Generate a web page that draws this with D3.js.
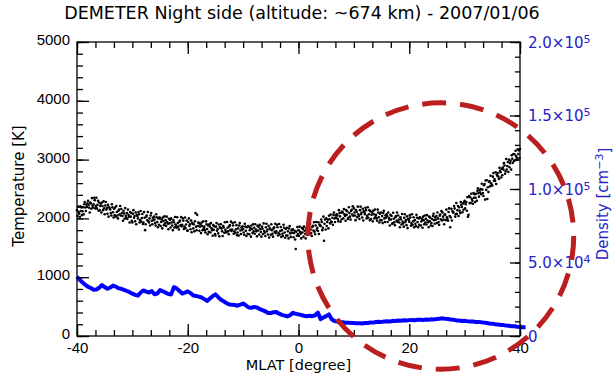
<!DOCTYPE html>
<html lang="en">
<head>
<meta charset="utf-8">
<title>DEMETER Night side</title>
<script src="https://d3js.org/d3.v7.min.js"></script>
<style>
  body { margin: 0; background: #fff; }
  svg { font-family: "DejaVu Sans", sans-serif; }
  .tick text { font-size: 15px; }
</style>
</head>
<body>
<svg id="chart" width="614" height="373"></svg>
<script>
// temperature samples, one every 0.1 degree of MLAT starting at -40
let tempStart = -40, tempStep = 0.1;
let temperature = [
  2140,2040,2200,2110,2080,2025,2205,2125,2185,2055,
  2120,2190,2070,2240,2280,2185,2125,2235,2195,2255,
  2300,2230,2180,2100,2270,2255,2165,2345,2215,2185,
  2240,2350,2310,2170,2210,2350,2170,2230,2300,2130,
  2270,2140,2210,2250,2100,2270,2210,2140,2290,2170,
  2070,2220,2280,2150,2180,2080,2230,2030,2190,2170,
  2150,2090,2050,2240,2190,2105,2015,2165,2055,2185,
  2030,2210,2110,2050,2000,2130,2150,2070,2210,2050,
  2160,2090,2040,1960,2130,2085,1995,2175,2045,2015,
  2090,1990,2150,2060,2030,1930,2110,2030,2090,1960,
  1930,2080,2140,2010,2040,1950,2100,1900,2060,2040,
  2000,2110,2070,1930,1970,2125,1945,2005,2075,1905,
  1930,2110,2010,1800,1900,2030,2050,1970,2110,1950,
  1930,2000,1880,2050,2090,1960,1900,2010,1970,2030,
  1980,1920,1880,2070,2020,1940,1850,2000,1890,2020,
  2000,1870,1940,1980,1830,2015,1955,1885,2035,1915,
  1970,1870,2030,1940,1910,1815,1995,1915,1975,1845,
  2000,1930,1880,1800,1970,1935,1845,2025,1895,1865,
  1840,2020,1920,1860,1810,1945,1965,1885,2025,1865,
  1890,2000,1960,1820,1860,2015,1835,1895,1965,1795,
  1790,1940,2000,1870,1900,1815,1965,1765,1925,1905,
  1830,1900,1780,1950,2090,1860,1800,2060,1870,1930,
  1920,1790,1860,1900,1750,1930,1870,1800,1950,1830,
  1860,1800,1760,1950,1900,1820,1730,1880,1770,1900,
  1860,1760,1920,1830,1800,1705,1885,1805,1865,1735,
  1710,1860,1920,1790,1820,1745,1895,1695,1855,1835,
  1900,1830,1780,1700,1870,1845,1755,1935,1805,1775,
  1760,1940,1840,1780,1730,1865,1885,1805,1945,1785,
  1810,1920,1880,1740,1780,1935,1755,1815,1885,1715,
  1760,1830,1710,1880,1920,1795,1735,1845,1805,1865,
  1820,1760,1720,1910,1860,1790,1700,1850,1740,1870,
  1860,1730,1800,1840,1690,1880,1820,1750,1900,1780,
  1840,1740,1900,1810,1780,1695,1875,1795,1855,1725,
  1890,1820,1770,1690,1860,1825,1735,1915,1785,1755,
  1700,1850,1910,1780,1810,1725,1875,1675,1835,1815,
  1720,1900,1800,1740,1690,1830,1850,1770,1910,1750,
  1780,1890,1850,1710,1750,1905,1725,1785,1855,1685,
  1800,1740,1700,1890,1840,1760,1670,1820,1710,1840,
  1710,1780,1660,1830,1870,1745,1685,1795,1755,1815,
  1810,1680,1750,1790,1640,1480,1775,1705,1855,1735,
  1800,1700,1860,1770,1740,1660,1840,1760,1820,1690,
  1860,1790,1740,1660,1830,1810,1720,1900,1770,1740,
  1730,1910,1810,1750,1700,1855,1875,1795,1935,1775,
  1730,1880,1940,1810,1840,1785,1935,1735,1895,1875,
  1870,1980,1940,1800,1840,2030,1620,1910,1980,1810,
  2000,1870,1940,1980,1830,2045,1985,1915,2065,1945,
  1940,2010,1890,2060,2100,2000,1940,2050,2010,2070,
  2050,1990,1950,2140,2090,2035,1945,2095,1985,2115,
  2100,2000,2160,2070,2040,1960,2140,2060,2120,1990,
  2010,2190,2090,2030,1980,2125,2145,2065,2205,2045,
  2170,2100,2050,1970,2140,2110,2020,2200,2070,2040,
  1990,2140,2200,2070,2100,2015,2165,1965,2125,2105,
  2070,2180,2140,2000,2040,2190,2010,2070,2140,1970,
  2120,1990,2060,2100,1950,2130,2070,2000,2150,2030,
  2060,2000,1960,2150,2100,2020,1930,2080,1970,2100,
  1970,2040,1920,2090,2130,2000,1940,2050,2010,2070,
  2040,1940,2100,2010,1980,1880,2060,1980,2040,1910,
  1915,2095,1995,1935,1885,2020,2040,1960,2100,1940,
  2050,1980,1930,1850,2020,1985,1895,2075,1945,1915,
  1860,2010,2070,1940,1970,1885,2035,1835,1995,1975,
  1945,2055,2015,1875,1915,2070,1890,1950,2020,1850,
  1970,1910,1870,2060,2010,1940,1850,2000,1890,2020,
  2010,1880,1950,1990,1840,2030,1970,1900,2050,1930,
  1995,1895,2055,1965,1935,1850,2030,1950,2010,1880,
  1920,1990,1870,2040,2080,1970,1910,2020,1980,2040,
  1920,2100,2000,1940,1890,2045,2065,1985,2125,1965,
  2100,2030,1980,1900,2070,2060,1970,2150,2020,1990,
  1960,2110,2170,2040,1850,2015,2165,1965,2125,2105,
  2100,2210,2170,2030,2070,2260,2080,2140,2210,2040,
  2190,2130,2090,2280,2230,2195,2105,2255,2145,2275,
  2300,2170,2240,2280,2130,2360,2030,2060,2380,2260,
  2360,2260,2420,2330,2300,2250,2430,2350,2410,2280,
  2350,2420,2300,2470,2510,2430,2370,2480,2440,2500,
  2410,2590,2490,2430,2380,2565,2585,2320,2645,2485,
  2650,2330,2530,2450,2620,2635,2545,2725,2595,2565,
  2560,2710,2770,2640,2670,2635,2785,2585,2745,2725,
  2770,2710,2670,2860,2810,2785,2695,2845,2735,2865,
  2830,2940,2900,2760,2800,3010,2830,2890,2960,2790,
  3000,2870,2940,2980,2830,3075,3015,2945,3095,2975,
  3090,2990,3150,3060,3030,2995,3175,3095,3155,3025,
  3180
];

// electron density [cm^-3], one every 0.5 degree starting at -40
let densStart = -40, densStep = 0.5;
let density = [
  40300,38200,36400,34800,33500,32600,31500,31600,32800,34700,
  33300,32100,33000,34300,33600,32500,32100,31400,30600,29800,
  28800,28000,27500,29600,31000,30200,29600,30600,28400,28900,
  31200,30400,29500,28500,28300,33200,32400,30600,28900,29500,
  30400,29200,27500,27200,26800,26200,25100,23900,25500,27100,
  28300,26400,24700,23600,22300,21500,21300,21100,20600,21300,
  22100,20800,19400,19200,19800,19400,18300,17600,16800,15700,
  15600,16200,16300,15200,14400,13900,13300,14200,15800,15100,
  14700,14300,13800,13500,13800,13500,14100,15900,11500,12600,
  13500,14700,11400,10200,9800,9400,9300,9000,9100,8800,
  8900,8600,8700,8500,8800,8900,9200,9100,9500,9700,
  9600,9900,10100,9900,10300,10200,10500,10400,10700,10500,
  10800,10900,10700,11000,11100,10900,11200,11100,11400,11300,
  11600,11800,12000,11700,11600,11200,11000,10600,10500,10200,
  10300,10000,9900,9800,9600,9600,9300,9100,8800,8500,
  8400,8000,7900,7500,7400,7100,7000,6700,6600,6300,
  6200,5900,5900
];

let latTicks = [-40, -20, 0, 20, 40];
let latTickLabels = ["-40", "-20", "0", "20", "40"];
let tempTicks = [0, 1000, 2000, 3000, 4000, 5000];
let densTicks = [0, 50000, 100000, 150000, 200000];
let densTickLabels = [["0", ""], ["5.0\u00d710", "4"], ["1.0\u00d710", "5"], ["1.5\u00d710", "5"], ["2.0\u00d710", "5"]];

// annotation ellipse in data units: centre (MLAT, K), radii (deg, K)
let ring = {lat: 25.7, temp: 1700, rLat: 24.0, rTemp: 2265};

let svg = d3.select("#chart");
let margin = {left: 77, right: 94, top: 42, bottom: 37};
let width = 614 - margin.left - margin.right;
let height = 373 - margin.top - margin.bottom;

let x = d3.scaleLinear().domain([-40, 40]).range([margin.left, margin.left + width]);
let yT = d3.scaleLinear().domain([0, 5000]).range([margin.top + height, margin.top]);
let yD = d3.scaleLinear().domain([0, 200000]).range([margin.top + height, margin.top]);

let blue = "#0000ff";
let blueText = "#2424c8";

// title
svg.append("text")
   .attr("x", 302).attr("y", 19)
   .attr("text-anchor", "middle")
   .style("font-size", "17.5px")
   .text("DEMETER Night side (altitude: ~674 km) - 2007/01/06");

// data
let tempData = temperature.map((t, i) => ({lat: tempStart + i * tempStep, t: t}));
let densData = density.map((d, i) => ({lat: densStart + i * densStep, d: d}));

svg.append("g").selectAll("circle")
   .data(tempData)
   .join("circle")
   .attr("cx", d => x(d.lat))
   .attr("cy", d => yT(d.t))
   .attr("r", 1.3)
   .attr("fill", "#000");

svg.append("path")
   .datum(densData)
   .attr("fill", "none")
   .attr("stroke", blue)
   .attr("stroke-width", 4)
   .attr("stroke-linejoin", "round")
   .attr("d", d3.line().x(d => x(d.lat)).y(d => yD(d.d)));

// frame
svg.append("rect")
   .attr("x", margin.left).attr("y", margin.top)
   .attr("width", width).attr("height", height)
   .attr("fill", "none").attr("stroke", "#000").attr("stroke-width", 1.3);

let minorLat = d3.range(-40, 40.001, 20 / 6);
let minorTemp = d3.range(0, 5001, 200);
let minorDens = d3.range(0, 200001, 10000);

function styleAxis(g) {
  g.select(".domain").remove();
  g.selectAll("line").attr("stroke", "#000").attr("stroke-width", 1.3);
}

// bottom
svg.append("g").attr("transform", `translate(0,${margin.top + height})`)
   .call(d3.axisBottom(x).tickValues(minorLat).tickSize(-6).tickFormat("")).call(styleAxis);
svg.append("g").attr("transform", `translate(0,${margin.top + height})`)
   .call(d3.axisBottom(x).tickValues(latTicks).tickSize(-12).tickPadding(6)
         .tickFormat((d, i) => latTickLabels[i])).call(styleAxis);
// top
svg.append("g").attr("transform", `translate(0,${margin.top})`)
   .call(d3.axisTop(x).tickValues(minorLat).tickSize(-6).tickFormat("")).call(styleAxis);
svg.append("g").attr("transform", `translate(0,${margin.top})`)
   .call(d3.axisTop(x).tickValues(latTicks).tickSize(-12).tickFormat("")).call(styleAxis);
// left
svg.append("g").attr("transform", `translate(${margin.left},0)`)
   .call(d3.axisLeft(yT).tickValues(minorTemp).tickSize(-6).tickFormat("")).call(styleAxis);
svg.append("g").attr("transform", `translate(${margin.left},0)`)
   .call(d3.axisLeft(yT).tickValues(tempTicks).tickSize(-12).tickPadding(7)
         .tickFormat(d3.format("d"))).call(styleAxis)
   .selectAll("text").attr("dy", "0.18em");
// right
let rx = margin.left + width;
svg.append("g").attr("transform", `translate(${rx},0)`)
   .call(d3.axisRight(yD).tickValues(minorDens).tickSize(-5).tickFormat("")).call(styleAxis);
svg.append("g").attr("transform", `translate(${rx},0)`)
   .call(d3.axisRight(yD).tickValues(densTicks).tickSize(-10).tickFormat("")).call(styleAxis);

let dl = svg.append("g").attr("fill", blueText).style("font-size", "15px");
densTicks.forEach((v, i) => {
  let t = dl.append("text").attr("x", rx + 8).attr("y", yD(v)).attr("dy", "0.38em");
  t.append("tspan").text(densTickLabels[i][0]);
  if (densTickLabels[i][1]) {
    t.append("tspan").attr("dy", "-0.45em").style("font-size", "11px").text(densTickLabels[i][1]);
  }
});

// axis titles
svg.append("text")
   .attr("x", x(0)).attr("y", 369.5)
   .attr("text-anchor", "middle").style("font-size", "14.5px")
   .text("MLAT [degree]");

svg.append("text")
   .attr("transform", `translate(24,186) rotate(-90)`)
   .attr("text-anchor", "middle").style("font-size", "15px")
   .text("Temperature [K]");

let dt = svg.append("text")
   .attr("transform", `translate(608,204) rotate(-90)`)
   .attr("text-anchor", "middle").style("font-size", "15px")
   .attr("fill", blueText);
dt.append("tspan").text("Density [cm");
dt.append("tspan").attr("dy", "-0.45em").style("font-size", "11px").text("\u22123");
dt.append("tspan").attr("dy", "0.45em").text("]");

// red dashed ring
let cx = x(ring.lat), cy = yT(ring.temp);
svg.append("ellipse")
   .attr("cx", cx).attr("cy", cy)
   .attr("rx", x(ring.lat + ring.rLat) - cx)
   .attr("ry", cy - yT(ring.temp + ring.rTemp))
   .attr("fill", "none")
   .attr("stroke", "#bb1e1e")
   .attr("stroke-width", 5)
   .attr("stroke-dasharray", "24,14");
</script>
</body>
</html>
